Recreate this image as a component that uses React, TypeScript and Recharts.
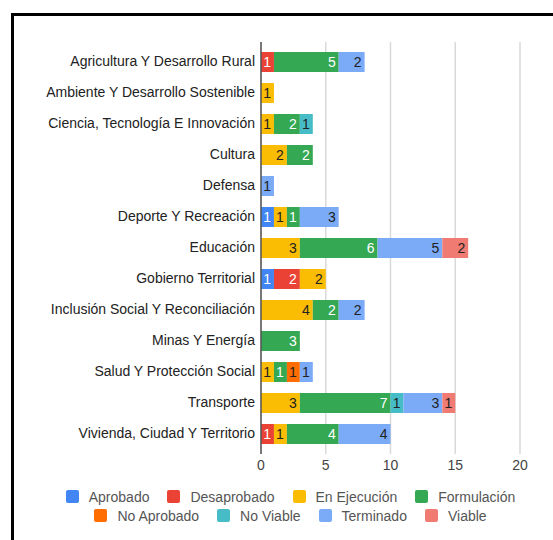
import React from "react";
import { BarChart, Bar, XAxis, YAxis, CartesianGrid, LabelList } from "recharts";

const categories = [
  "Agricultura Y Desarrollo Rural",
  "Ambiente Y Desarrollo Sostenible",
  "Ciencia, Tecnología E Innovación",
  "Cultura",
  "Defensa",
  "Deporte Y Recreación",
  "Educación",
  "Gobierno Territorial",
  "Inclusión Social Y Reconciliación",
  "Minas Y Energía",
  "Salud Y Protección Social",
  "Transporte",
  "Vivienda, Ciudad Y Territorio",
];

const aprobado = [0, 0, 0, 0, 0, 1, 0, 1, 0, 0, 0, 0, 0];
const desaprobado = [1, 0, 0, 0, 0, 0, 0, 2, 0, 0, 0, 0, 1];
const enEjecucion = [0, 1, 1, 2, 0, 1, 3, 2, 4, 0, 1, 3, 1];
const formulacion = [5, 0, 2, 2, 0, 1, 6, 0, 2, 3, 1, 7, 4];
const noAprobado = [0, 0, 0, 0, 0, 0, 0, 0, 0, 0, 1, 0, 0];
const noViable = [0, 0, 1, 0, 0, 0, 0, 0, 0, 0, 0, 1, 0];
const terminado = [2, 0, 0, 0, 1, 3, 5, 0, 2, 0, 1, 3, 4];
const viable = [0, 0, 0, 0, 0, 0, 2, 0, 0, 0, 0, 1, 0];

const xTicks = [0, 5, 10, 15, 20];

const series = [
  { key: "Aprobado", values: aprobado, color: "#4285F4", label: "#ffffff" },
  { key: "Desaprobado", values: desaprobado, color: "#EA4335", label: "#ffffff" },
  { key: "En Ejecución", values: enEjecucion, color: "#FBBC04", label: "#222222" },
  { key: "Formulación", values: formulacion, color: "#34A853", label: "#ffffff" },
  { key: "No Aprobado", values: noAprobado, color: "#FF6D01", label: "#222222" },
  { key: "No Viable", values: noViable, color: "#46BDC6", label: "#222222" },
  { key: "Terminado", values: terminado, color: "#7BAAF7", label: "#222222" },
  { key: "Viable", values: viable, color: "#F07B72", label: "#222222" },
];

const data = categories.map((name, i) => {
  const row: Record<string, string | number> = { name };
  series.forEach((s) => {
    row[s.key] = s.values[i];
  });
  return row;
});

const font = "Arial, 'Liberation Sans', sans-serif";

function LegendRow({ items }: { items: typeof series }) {
  return (
    <div style={{ display: "flex", justifyContent: "center", height: 19 }}>
      {items.map((s, i) => (
        <div
          key={s.key}
          style={{
            display: "flex",
            alignItems: "center",
            marginLeft: i === 0 ? 0 : 18,
          }}
        >
          <span
            style={{
              width: 13,
              height: 13,
              background: s.color,
              borderRadius: 2,
              display: "inline-block",
              marginRight: 10,
            }}
          />
          <span style={{ fontSize: 14, color: "#555" }}>{s.key}</span>
        </div>
      ))}
    </div>
  );
}

export default function App() {
  return (
    <div
      style={{
        position: "absolute",
        left: 0,
        top: 0,
        width: 553,
        height: 540,
        overflow: "hidden",
        background: "#fff",
        fontFamily: font,
      }}
    >
      <div
        style={{
          position: "absolute",
          left: 11,
          top: 13,
          width: 600,
          height: 600,
          border: "3px solid #000",
        }}
      />
      <div style={{ position: "absolute", left: 0, top: 0 }}>
        <BarChart
          width={553}
          height={540}
          data={data}
          layout="vertical"
          margin={{ top: 42, right: 33, left: 0, bottom: 56 }}
          barSize={20}
        >
          <CartesianGrid horizontal={false} stroke="#d9d9d9" strokeWidth={1.5} />
          <XAxis
            type="number"
            domain={[0, 20]}
            ticks={xTicks}
            axisLine={false}
            tickLine={false}
            height={30}
            tick={{ fontSize: 14, fill: "#444", fontFamily: font }}
            tickMargin={0}
          />
          <YAxis
            type="category"
            dataKey="name"
            width={261}
            padding={{ top: 4, bottom: 5 }}
            axisLine={{ stroke: "#555", strokeWidth: 1.5 }}
            tickLine={false}
            tickMargin={0}
            interval={0}
            tick={{ fontSize: 14, fill: "#222", fontFamily: font }}
          />
          {series.map((s) => (
            <Bar
              key={s.key}
              dataKey={s.key}
              stackId="a"
              fill={s.color}
              isAnimationActive={false}
            >
              <LabelList
                dataKey={s.key}
                position="insideRight"
                offset={3}
                fill={s.label}
                fontSize={14}
                fontFamily={font}
                formatter={(v: any) => (v ? v : "")}
              />
            </Bar>
          ))}
        </BarChart>
      </div>
      <div style={{ position: "absolute", left: 28, top: 487, width: 525 }}>
        <LegendRow items={series.slice(0, 4)} />
        <LegendRow items={series.slice(4)} />
      </div>
    </div>
  );
}
